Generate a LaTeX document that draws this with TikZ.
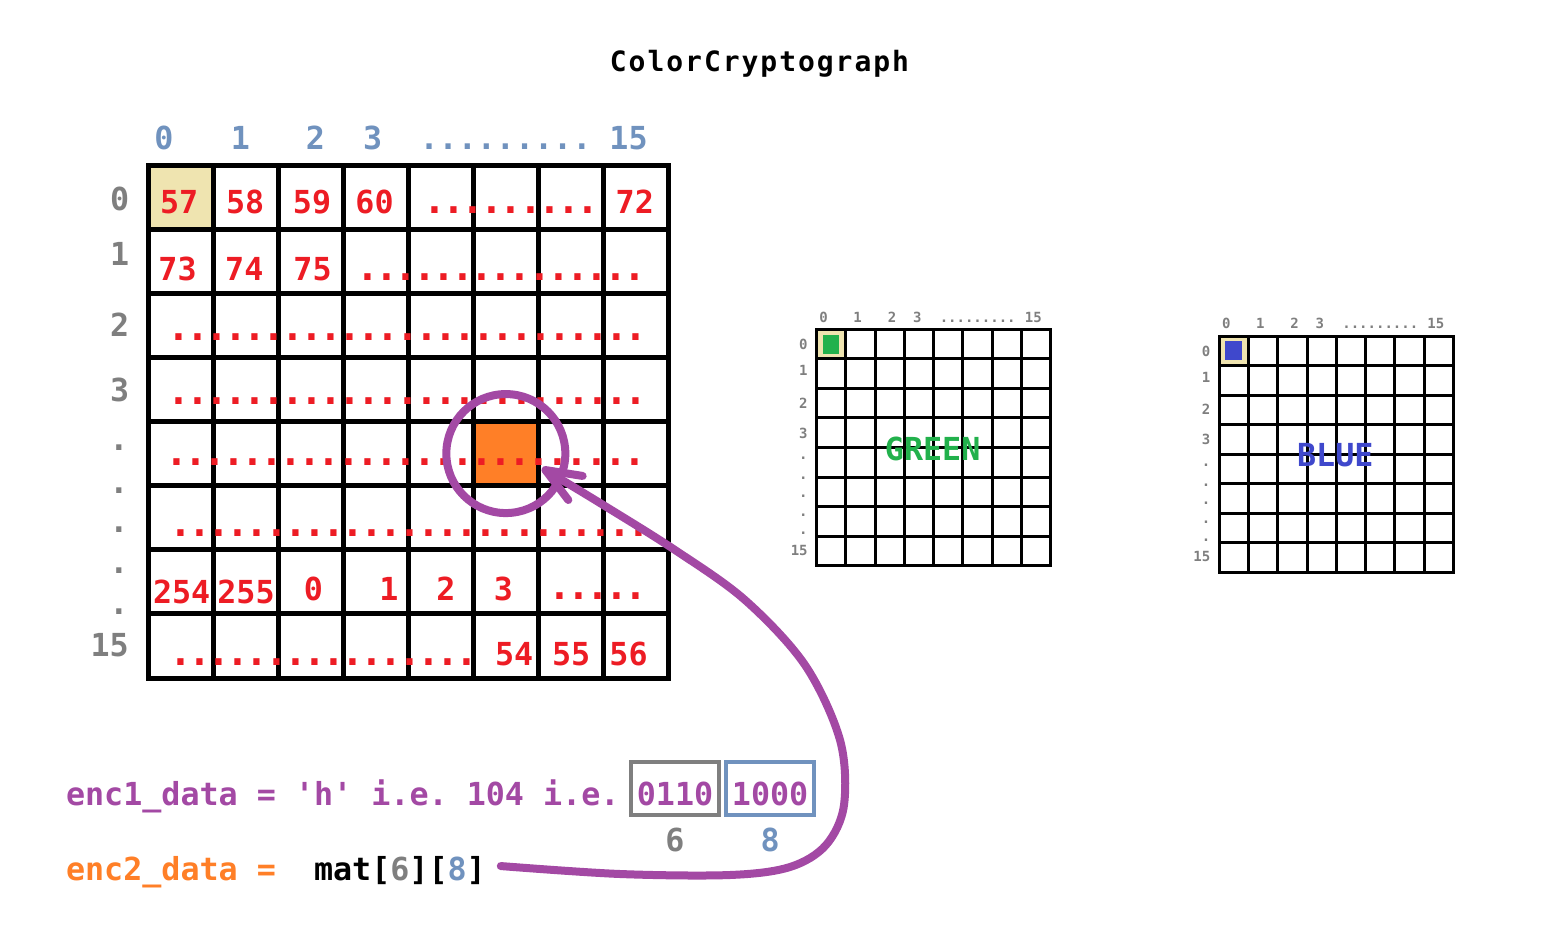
\documentclass[tikz,border=0pt]{standalone}
\usepackage{fontspec}
\setmonofont{DejaVu Sans Mono}
\newfontfamily\titlefont{DejaVu Sans Mono}[LetterSpace=7]
\newfontfamily\dotfont{DejaVu Sans Mono}[LetterSpace=-10]
\usepackage{tikz}
\usetikzlibrary{arrows.meta,positioning}
\definecolor{cred}{RGB}{237,28,36}
\definecolor{corange}{RGB}{255,127,39}
\definecolor{ctan}{RGB}{239,228,176}
\definecolor{cpurple}{RGB}{163,73,164}
\definecolor{csteel}{RGB}{112,146,190}
\definecolor{cgray}{RGB}{127,127,127}
\definecolor{cgreen}{RGB}{34,177,76}
\definecolor{cblue}{RGB}{63,72,204}
\newcommand{\bigtt}{\ttfamily\bfseries\fontsize{31.7}{36}\selectfont}
\newcommand{\smalltt}{\ttfamily\bfseries\fontsize{14}{16}\selectfont}

\begin{document}
\begin{tikzpicture}[x=1pt,y=-1pt,
  every node/.style={inner sep=0pt,outer sep=0pt,font=\bigtt},
  num/.style={text=cred,anchor=base},
  dot row/.style={text=cred,anchor=base west,font=\dotfont\bfseries\fontsize{38}{40}\selectfont},
  col label/.style={text=csteel,anchor=base},
  row label/.style={text=cgray,anchor=base},
  small label/.style={text=cgray,anchor=base,font=\smalltt},
  main line/.style={line width=5pt,line cap=rect},
  small line/.style={line width=3pt,line cap=rect},
  bit box/.style={line width=4pt,text=cpurple,anchor=base,minimum width=88.5pt,
    minimum height=53.3pt,text height=32.5pt,text depth=0pt},
  link/.style={cpurple,line width=8pt,line cap=round,
    -{Straight Barb[length=35pt,width=28pt,round]}}]
  \useasboundingbox (0,0) rectangle (1542,942);
  \fill[white] (0,0) rectangle (1542,942);

  \node[anchor=base,font=\titlefont\bfseries\fontsize{28}{32}\selectfont] (title)
    at (759.5,71) {ColorCryptograph};

  % red matrix
  \fill[ctan] (148,165) rectangle (213.06,229.13);
  \node[fill=corange,minimum width=65.06pt,minimum height=64.13pt] (cell) at (505.83,453.56) {};
  \foreach \i in {0,...,8} {
    \draw[main line] (148+65.06*\i,165) -- (148+65.06*\i,678);
    \draw[main line] (148,165+64.125*\i) -- (668.5,165+64.125*\i);
  }
  \foreach \t/\x [count=\k] in {0/164,1/240.3,2/315.5,3/372.7,{.........}/505.5,15/628.5}
    \node[col label] (col\k) at (\x,149.5) {\t};
  \foreach \t/\x/\y [count=\k] in {0/119.7/210,1/119.7/265,2/119.7/336,3/119.7/401.7,
      ./119/450.3,./119/493,./119/532.3,./119/573.7,./119/614,15/109.6/656}
    \node[row label] (row\k) at (\x,\y) {\t};
  \foreach \t/\x/\y [count=\k] in {57/179.2/213.3,58/245.2/213.3,59/312/213.3,60/374.5/213.3,
      72/634.8/213.3,73/177.5/280,74/244.3/280,75/312.5/280,254/181.7/603.3,255/246/603.3,
      0/313.5/600,1/389/600,2/446/600,3/503.5/600,54/514.2/665.7,55/571.2/665.7,56/628.5/665.7}
    \node[num] (n\k) at (\x,\y) {\t};
  \foreach \d/\x/\y [count=\k] in {{.........}/423.6/213.7,{...............}/356.3/280,
      {.........................}/167.1/340,{.........................}/167.1/404.5,
      {.........................}/165.3/465,{.........................}/169.6/536,
      {.....}/548.6/599,{................}/169.6/665}
    \node[dot row] (d\k) at (\x,\y) {\d};

  % green and blue matrices
  \foreach \gx/\gy/\gc/\gt [count=\g] in {816.7/329.3/cgreen/GREEN,1219.3/336/cblue/BLUE} {
    \begin{scope}[shift={(\gx,\gy)}]
      \fill[ctan] (0,0) rectangle (29.25,29.55);
      \fill[fill=\gc] (6,5.3) rectangle (22.2,24.3);
      \foreach \i in {0,...,8} {
        \draw[small line] (29.25*\i,0) -- (29.25*\i,236.4);
        \draw[small line] (0,29.55*\i) -- (234,29.55*\i);
      }
      \foreach \t/\x [count=\k] in {0/7,1/41,2/75.3,3/100.6,{.........}/161,15/216.6}
        \node[small label] (top\g-\k) at (\x,-7.2) {\t};
      \foreach \t/\x/\y [count=\k] in {0/-13.3/20.3,1/-13.3/46.1,2/-13.3/78.8,3/-13.3/108.8,
          ./-13.3/130.6,./-13.3/150.3,./-13.3/168.6,./-13.3/187.1,./-13.3/205.6,15/-17.5/225.8}
        \node[small label] (side\g-\k) at (\x,\y) {\t};
      \node[text=\gc] (name\g) at (116,119.5) {\gt};
    \end{scope}
  }

  % encoding lines
  \node[anchor=base west,text=cpurple] (enc1) at (66,805) {enc1\_data = 'h' i.e. 104 i.e.};
  \node[bit box,draw=cgray] (hi) at (675,805) {0110};
  \node[bit box,draw=csteel,anchor=west,right=6.6pt of hi] (lo) {1000};
  \node[text=cgray,below=13pt of hi] (six) {6};
  \node[text=csteel,below=13pt of lo] (eight) {8};
  \node[anchor=base west,text=corange] (enc2) at (66,880) {enc2\_data =};
  \node[anchor=base west] (matref) at (314,880)
    {mat[\textcolor{cgray}{6}][\textcolor{csteel}{8}]};

  % pointer to the chosen cell
  \coordinate (tip) at (542,468);
  \node[circle,draw=cpurple,line width=8pt,minimum size=119pt] (ring) at (cell) {};
  \draw[link] plot[smooth,tension=0.55] coordinates {([shift={(15,-4)}]matref.east)
    (620,874) (730,875) (790,867) (826,845) (844,805) (840,740) (805,665) (745,600) (675,550) (600,503) (tip)};
\end{tikzpicture}
\end{document}
